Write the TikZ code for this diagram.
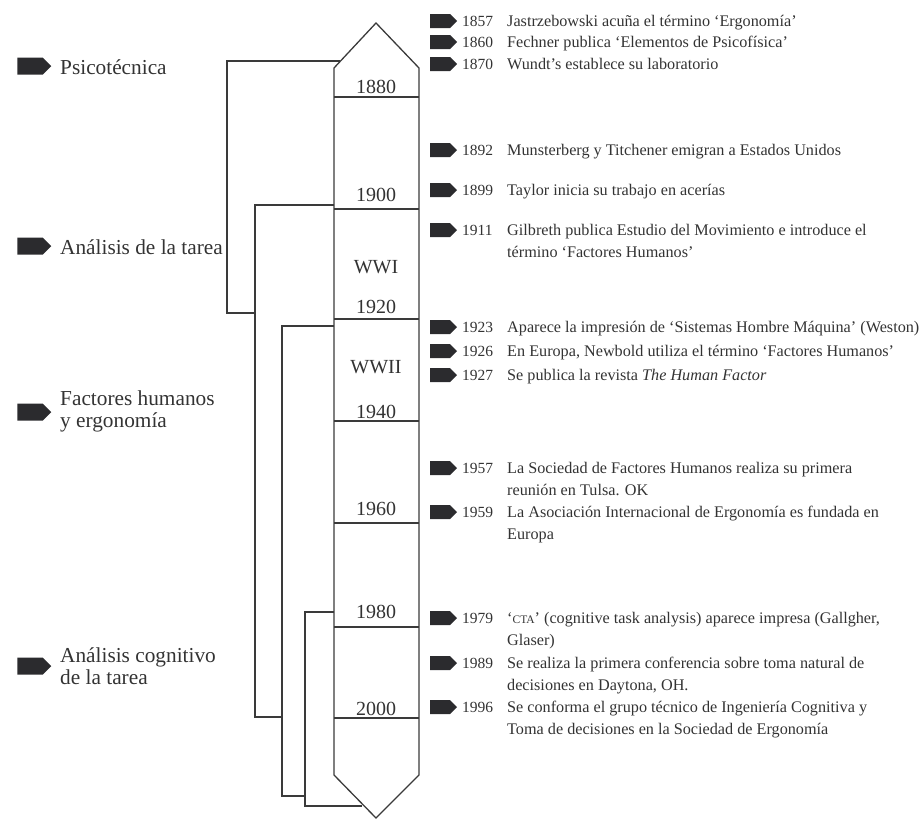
\documentclass[tikz,border=0pt]{standalone}
\usepackage{fontspec}
\setmainfont{Liberation Serif}
\usepackage{tikz}
\usetikzlibrary{shapes.symbols}
\definecolor{inkgray}{HTML}{333333}
\definecolor{tagdark}{HTML}{2B2B2E}
\definecolor{linegray}{HTML}{3A3A3A}

\begin{document}
\begin{tikzpicture}[x=1pt, y=-1pt,
    rule/.style={draw=linegray, line width=1.3pt},
    tag/.style={shape=signal, signal to=east, fill=tagdark, inner sep=0pt, minimum width=27pt, minimum height=14pt},
    bigtag/.style={tag, minimum width=34pt, minimum height=17pt},
    evyear/.style={anchor=base west, inner sep=0pt, text=inkgray, font=\fontsize{15.5}{22.5}\selectfont},
    evtext/.style={anchor=north west, align=left, inner sep=0pt, text=inkgray, font=\fontsize{16.2}{22.5}\selectfont},
    era/.style={text=inkgray, inner sep=0pt, font=\fontsize{20}{22}\selectfont},
    group/.style={anchor=west, align=left, text=inkgray, inner sep=0pt, font=\fontsize{21.3}{22}\selectfont}]
    \useasboundingbox (0,0) rectangle (924,820);

    % Timeline column
    \draw[rule] (334,68) -- (376,23) -- (419,68) -- (419,775) -- (376,818) -- (334,775) -- cycle;
    \foreach \y in {97,209,319,421,523,627,718}
        \draw[rule] (334,\y) -- (419,\y);

    % Period labels
    \node[era] (e1880) at (376,87) {1880};
    \node[era] (e1900) at (376,195) {1900};
    \node[era] (ewwi) at (376,267) {WWI};
    \node[era] (e1920) at (376,307) {1920};
    \node[era] (ewwii) at (376,367) {WWII};
    \node[era] (e1940) at (376,412) {1940};
    \node[era] (e1960) at (376,509) {1960};
    \node[era] (e1980) at (376,612) {1980};
    \node[era] (e2000) at (376,709) {2000};

    % Brackets
    \draw[rule] (340,61) -| (227,313) -- (255,313);
    \draw[rule] (334,205) -| (255,717) -- (282,717);
    \draw[rule] (334,326) -| (282,796) -- (305,796);
    \draw[rule] (334,612) -| (305,806) -- (362,806);

    % Approaches
    \node[bigtag] (gt1) at (30,66) {};
    \node[group] (g1) at (60,67) {Psicotécnica};
    \node[bigtag] (gt2) at (30,246) {};
    \node[group] (g2) at (60,247) {Análisis de la tarea};
    \node[bigtag] (gt3) at (30,412) {};
    \node[group] (g3) at (60,411) {Factores humanos\\y ergonomía};
    \node[bigtag] (gt4) at (30,666) {};
    \node[group] (g4) at (60,666) {Análisis cognitivo\\de la tarea};

    % Events
    \foreach \y/\yr/\txt in {
        21/1857/{Jastrzebowski acuña el término `Ergonomía'},
        42/1860/{Fechner publica `Elementos de Psicofísica'},
        64/1870/{Wundt's establece su laboratorio},
        150/1892/{Munsterberg y Titchener emigran a Estados Unidos},
        190/1899/{Taylor inicia su trabajo en acerías},
        230/1911/{Gilbreth publica Estudio del Movimiento e introduce el\\término `Factores Humanos'},
        327/1923/{Aparece la impresión de `Sistemas Hombre Máquina' (Weston)},
        351/1926/{En Europa, Newbold utiliza el término `Factores Humanos'},
        375/1927/{Se publica la revista \textit{The Human Factor}},
        468/1957/{La Sociedad de Factores Humanos realiza su primera\\reunión en Tulsa. OK},
        512/1959/{La Asociación Internacional de Ergonomía es fundada en\\Europa},
        618/1979/{`{\fontsize{11.5}{12}\selectfont CTA}' (cognitive task analysis) aparece impresa (Gallgher,\\Glaser)},
        663/1989/{Se realiza la primera conferencia sobre toma natural de\\decisiones en Daytona, OH.},
        707/1996/{Se conforma el grupo técnico de Ingeniería Cognitiva y\\Toma de decisiones en la Sociedad de Ergonomía}}
    {
        \node[tag] (t\yr) at (440,\y) {};
        \node[evyear] (y\yr) at (462,\y+5) {\yr};
        \node[evtext] (d\yr) at (507,\y+5-15.75) {\strut\txt};
    }
\end{tikzpicture}
\end{document}
